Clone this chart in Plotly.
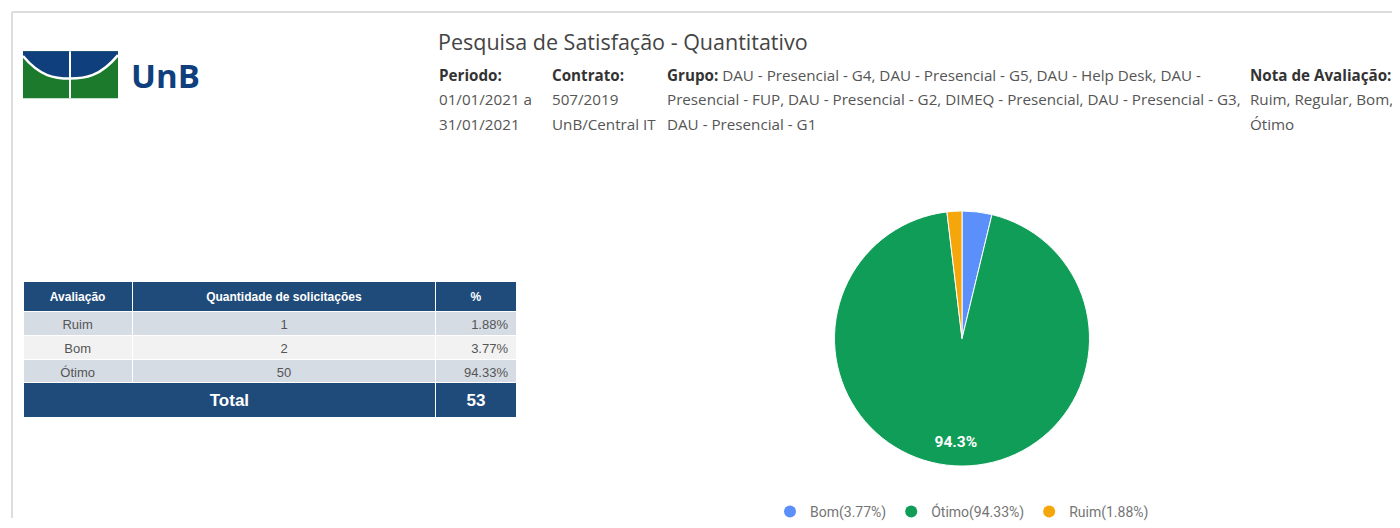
import plotly.graph_objects as go

# pie / legend data (clockwise from 12 o'clock)
categories = ["Bom", "Ótimo", "Ruim"]
counts = [2, 50, 1]
percents = [3.77, 94.33, 1.88]
slice_colors = ["#5B8FF9", "#0F9D58", "#F5A60A"]

# table data
table_labels = ["Ruim", "Bom", "Ótimo"]
table_counts = [1, 2, 50]
table_percents = ["1.88%", "3.77%", "94.33%"]
table_headers = ["Avaliação", "Quantidade de solicitações", "%"]

title = "Pesquisa de Satisfação - Quantitativo"
periodo = ["01/01/2021 a", "31/01/2021"]
contrato = ["507/2019", "UnB/Central IT"]
grupo = [
    "DAU - Presencial - G4, DAU - Presencial - G5, DAU - Help Desk, DAU -",
    "Presencial - FUP, DAU - Presencial - G2, DIMEQ - Presencial, DAU - Presencial - G3,",
    "DAU - Presencial - G1",
]
nota = ["Ruim, Regular, Bom,", "Ótimo"]

# the page body has an 8px margin, so the figure covers window pixels 8..1400 x 8..528
OFF = 8
W, H = 1400 - OFF, 528 - OFF


def px(x):
    return (x - OFF) / W


def py(y):
    return 1 - (y - OFF) / H


fig = go.Figure()

pie_domain = dict(x=[px(832), px(1092)], y=[py(475), py(215)])

# pie
fig.add_trace(
    go.Pie(
        labels=categories,
        values=counts,
        sort=False,
        direction="clockwise",
        rotation=0,
        marker=dict(colors=slice_colors, line=dict(color="white", width=1)),
        textinfo="none",
        showlegend=False,
        hoverinfo="label+value+percent",
        domain=pie_domain,
    )
)
# transparent ring on top, only used to place the slice label further out
fig.add_trace(
    go.Pie(
        labels=categories,
        values=counts,
        sort=False,
        direction="clockwise",
        rotation=0,
        hole=0.62,
        marker=dict(colors=["rgba(0,0,0,0)"] * 3, line=dict(width=0)),
        texttemplate="<b>%{percent:.1%}</b>",
        textposition=["none", "inside", "none"],
        insidetextorientation="horizontal",
        insidetextfont=dict(family="Roboto", size=15.5, color="white"),
        showlegend=False,
        hoverinfo="skip",
        domain=pie_domain,
    )
)

# legend entries with round markers
for name, pct, col in zip(categories, percents, slice_colors):
    fig.add_trace(
        go.Scatter(
            x=[None],
            y=[None],
            mode="markers",
            marker=dict(color=col, size=13, symbol="circle"),
            name=f"{name}({pct:.2f}%)",
        )
    )

row_fill = ["#D6DCE4", "#F2F2F2", "#D6DCE4"]
fig.add_trace(
    go.Table(
        domain=dict(x=[px(23), px(516)], y=[py(440), py(287)]),
        columnwidth=[109, 303, 80],
        header=dict(
            values=[f"<b>{h}</b>" for h in table_headers],
            fill_color="#1F4B7A",
            line=dict(color="white", width=1),
            font=dict(family="Arial", size=12, color="white"),
            align="center",
            height=22,
        ),
        cells=dict(
            values=[table_labels, table_counts, table_percents],
            fill_color=[row_fill] * 3,
            line=dict(color="white", width=1),
            font=dict(family="Arial", size=13, color="#555555"),
            align=["center", "center", "right"],
            height=24,
        ),
    )
)

# total row
fig.add_trace(
    go.Table(
        domain=dict(x=[px(23), px(516)], y=[py(440), py(390)]),
        columnwidth=[412, 80],
        header=dict(
            values=["<b>Total</b>", f"<b>{sum(table_counts)}</b>"],
            fill_color="#1F4B7A",
            line=dict(color="white", width=1),
            font=dict(family="Arial", size=17, color="white"),
            align="center",
            height=24,
        ),
        cells=dict(values=[[], []]),
    )
)

# page frame and logo (window pixel coordinates)
shapes = [
    dict(type="line", x0=12, x1=1400, y0=12, y1=12, line=dict(color="#DDDDDD", width=2)),
    dict(type="line", x0=12, x1=12, y0=12, y1=528, line=dict(color="#DDDDDD", width=2)),
    dict(type="rect", x0=23, x1=118, y0=52, y1=100, fillcolor="#1C7A2C", line=dict(width=0)),
    dict(type="path", path="M23,52 L118,52 L118,56 C100,78 85,80 70,80 C55,80 40,78 23,57 Z",
         fillcolor="#0F3F7D", line=dict(width=0)),
    dict(type="path", path="M23,57 C40,78 55,80 70,80 C85,80 100,78 118,56",
         line=dict(color="white", width=2.5)),
    dict(type="line", x0=70, x1=70, y0=52, y1=100, line=dict(color="white", width=2)),
]

body = dict(family="Open Sans", size=15.2, color="#555555")
bold = dict(family="Open Sans", size=15.2, color="#333333")
annotations = [
    dict(x=129, y=77, text="<b>UnB</b>", font=dict(family="Open Sans", size=33, color="#0F3F7D")),
    dict(x=436, y=42, text=title, font=dict(family="Open Sans", size=21.5, color="#444444")),
    dict(x=437, y=76, text="<b>Periodo:</b>", font=bold),
    dict(x=550, y=76, text="<b>Contrato:</b>", font=bold),
    dict(x=665, y=76, text="<b><span style='color:#333333'>Grupo:</span></b> " + grupo[0], font=body),
    dict(x=1248, y=76, text="<b>Nota de Avaliação:</b>", font=bold),
]
for i, t in enumerate(periodo):
    annotations.append(dict(x=437, y=101 + 25 * i, text=t, font=body))
for i, t in enumerate(contrato):
    annotations.append(dict(x=550, y=101 + 25 * i, text=t, font=body))
for i, t in enumerate(grupo[1:]):
    annotations.append(dict(x=665, y=101 + 25 * i, text=t, font=body))
for i, t in enumerate(nota):
    annotations.append(dict(x=1248, y=101 + 25 * i, text=t, font=body))
for a in annotations:
    a.update(xref="x", yref="y", xanchor="left", yanchor="middle", showarrow=False)

fig.update_layout(
    width=W,
    height=H,
    margin=dict(l=0, r=0, t=0, b=0),
    paper_bgcolor="white",
    plot_bgcolor="white",
    xaxis=dict(range=[OFF, 1400], visible=False, domain=[0, 1], fixedrange=True),
    yaxis=dict(range=[528, OFF], visible=False, domain=[0, 1], fixedrange=True),
    shapes=shapes,
    annotations=annotations,
    showlegend=True,
    legend=dict(
        orientation="h",
        x=px(962),
        xanchor="center",
        y=py(522),
        yanchor="middle",
        font=dict(family="Roboto", size=14, color="#757575"),
        itemsizing="constant",
        bgcolor="rgba(0,0,0,0)",
    ),
)

fig.write_html("out.html")
